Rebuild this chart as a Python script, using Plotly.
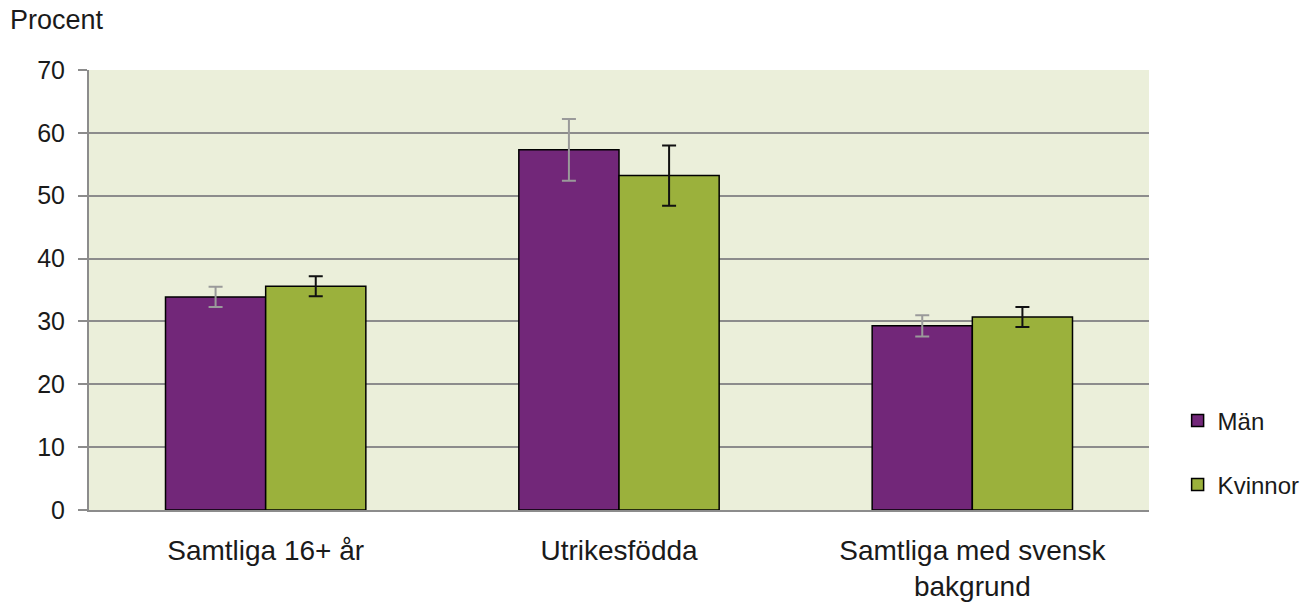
import plotly.graph_objects as go

categories = ["Samtliga 16+ år", "Utrikesfödda", "Samtliga med svensk<br>bakgrund"]
man_values = [33.9, 57.3, 29.3]
man_err = [1.6, 4.9, 1.7]
kvinnor_values = [35.6, 53.2, 30.7]
kvinnor_err = [1.6, 4.8, 1.6]

FONT = "Liberation Sans, Arial, sans-serif"
fig = go.Figure()
fig.add_trace(go.Bar(
    x=categories, y=man_values, name="Män",
    marker=dict(color="#722779", line=dict(color="#000000", width=1.5)),
    error_y=dict(type="data", array=man_err, color="#9a9a9a", thickness=2, width=7),
    legend="legend",
))
fig.add_trace(go.Bar(
    x=categories, y=kvinnor_values, name="Kvinnor",
    marker=dict(color="#9BB13C", line=dict(color="#000000", width=1.5)),
    error_y=dict(type="data", array=kvinnor_err, color="#111111", thickness=2, width=7),
    legend="legend2",
))

fig.update_layout(
    width=1309, height=603,
    margin=dict(l=89, r=160, t=70, b=93, autoexpand=False),
    paper_bgcolor="white",
    plot_bgcolor="#EBEFDA",
    barmode="group",
    bargap=0.433,
    bargroupgap=0,
    font=dict(family=FONT, size=25, color="#1a1a1a"),
    legend=dict(x=1.027, y=(510 - 421) / 440, xanchor="left", yanchor="middle",
                font=dict(size=24), bgcolor="rgba(0,0,0,0)"),
    legend2=dict(x=1.027, y=(510 - 485) / 440, xanchor="left", yanchor="middle",
                 font=dict(size=24), bgcolor="rgba(0,0,0,0)"),
    showlegend=True,
)
fig.update_yaxes(
    range=[0, 70], dtick=10, showgrid=True, gridcolor="#8c8c8c", gridwidth=2,
    showline=True, linecolor="#8c8c8c", linewidth=2,
    ticks="outside", ticklen=9, tickcolor="#8c8c8c", tickwidth=2,
    ticklabelstandoff=8, zeroline=False, automargin=False,
)
fig.update_xaxes(
    showline=True, linecolor="#8c8c8c", linewidth=2, ticks="", showgrid=False,
    ticklabelstandoff=14, tickfont=dict(size=28), automargin=False,
)
fig.add_annotation(text="Procent", xref="paper", yref="paper", x=-81 / 1060, y=(510 - 20) / 440,
                   xanchor="left", yanchor="middle", showarrow=False, font=dict(size=27))

fig.write_html("out.html", config={"displayModeBar": False},
               post_script="document.body.style.margin='0';document.body.style.overflow='hidden';")
